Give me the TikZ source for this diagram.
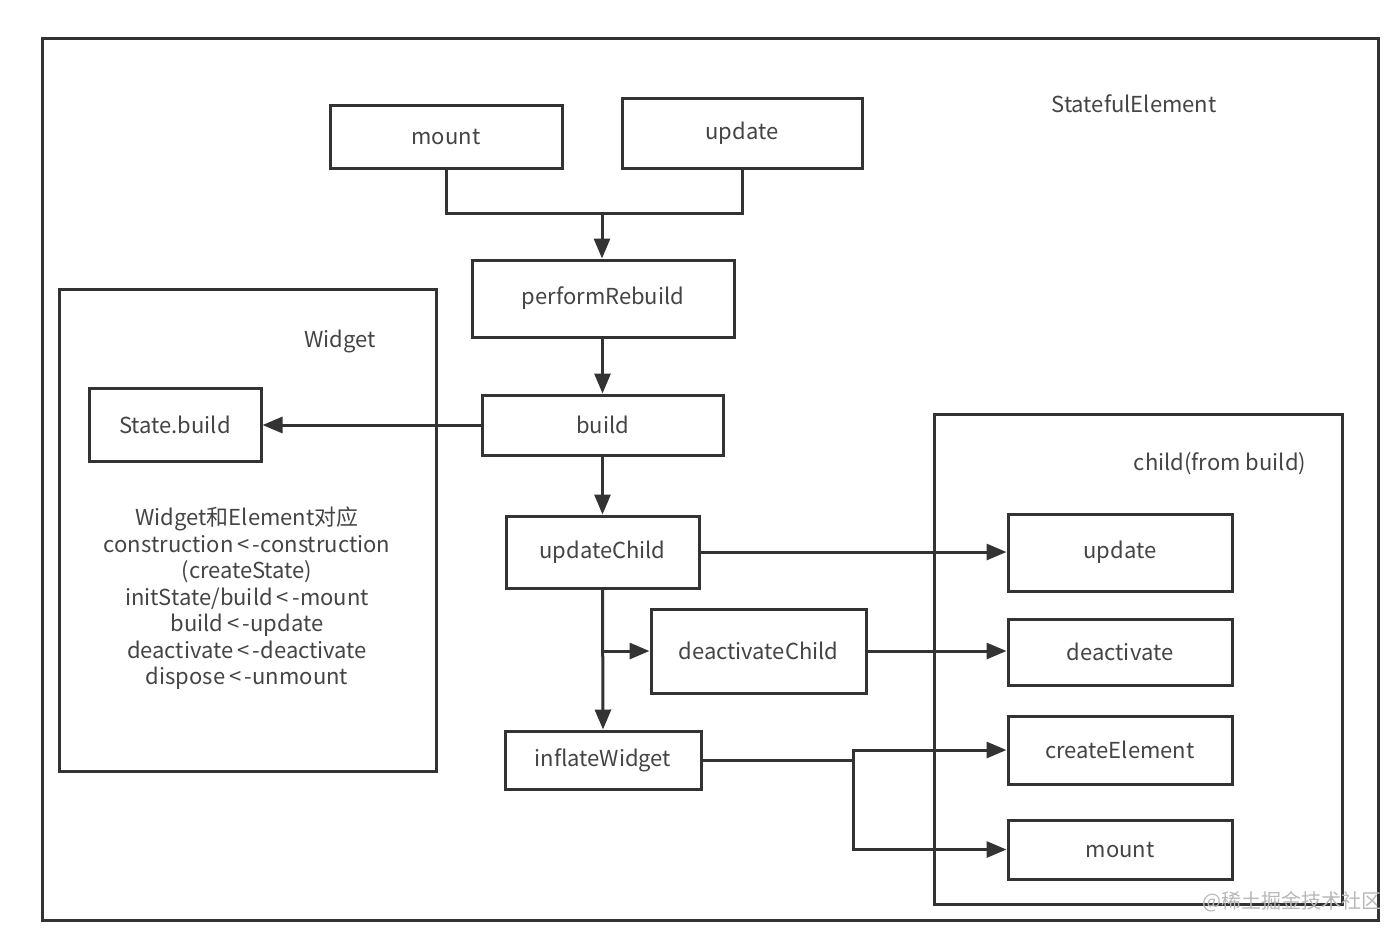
\documentclass[tikz,border=0pt]{standalone}
\usepackage{fontspec}
\setmainfont{Noto Sans CJK SC}
\usetikzlibrary{arrows.meta}
\definecolor{ln}{HTML}{333333}
\definecolor{tx}{HTML}{444444}
\definecolor{wm}{HTML}{B8B8B8}
\tikzset{
  box/.style={draw=ln, line width=1.5pt, fill=white, text=tx, font=\fontsize{11}{13}\selectfont, inner sep=0pt},
  frame/.style={draw=ln, line width=1.5pt},
  conn/.style={draw=ln, line width=1.5pt},
  arr/.style={conn, -{Triangle[length=10pt,width=8pt]}},
  lbl/.style={text=tx, font=\fontsize{11}{13}\selectfont, inner sep=0pt}
}
\begin{document}
\begin{tikzpicture}[x=0.5pt,y=-0.5pt]
\useasboundingbox (0,0) rectangle (1395,934);
% frames
\draw[frame] (42,38) rectangle (1378,920);
\node[lbl] (sflbl) at (1134,104) {StatefulElement};
\draw[frame] (59,289) rectangle (436,771);
\node[lbl] (wlbl) at (340,341) {Widget};
\draw[frame] (934,414) rectangle (1342,904);
\node[lbl] (clbl) at (1220,464) {child(from build)};
% nodes
\node[box, minimum width=116pt, minimum height=31.5pt] (mount) at (446,137) {mount};
\node[box, minimum width=120pt, minimum height=35pt] (update) at (742,133) {update};
\node[box, minimum width=131pt, minimum height=38.5pt] (perf) at (603,298.5) {performRebuild};
\node[box, minimum width=120.5pt, minimum height=30pt] (build) at (602.5,425) {build};
\node[box, minimum width=86pt, minimum height=36.5pt] (sbuild) at (175,425) {State.build};
\node[box, minimum width=96.5pt, minimum height=36pt] (uchild) at (602.5,552) {updateChild};
\node[box, minimum width=107.5pt, minimum height=42pt] (dchild) at (758.5,651) {deactivateChild};
\node[box, minimum width=98pt, minimum height=29pt] (inflate) at (603,760) {inflateWidget};
\node[box, minimum width=112pt, minimum height=38.5pt] (cupdate) at (1120,552.5) {update};
\node[box, minimum width=112pt, minimum height=33pt] (cdeact) at (1120,652) {deactivate};
\node[box, minimum width=112pt, minimum height=34pt] (ccreate) at (1120,750) {createElement};
\node[box, minimum width=112pt, minimum height=29.5pt] (cmount) at (1120,849.5) {mount};
\node[lbl, align=center, font=\fontsize{11}{13.25}\selectfont] (wtext) at (247,598.5) {Widget和Element对应\\construction\,<\,-construction\\(createState)\\initState/build\,<\,-mount\\build\,<\,-update\\deactivate\,<\,-deactivate\\dispose\,<\,-unmount};
% connectors
\coordinate (m1) at (446,213);
\coordinate (m2) at (742,213);
\coordinate (mj) at (602,213);
\draw[conn] (mount.south) -- (m1) -- (m2) -- (update.south);
\draw[arr] (mj) -- (perf.north -| mj);
\draw[arr] (perf.south -| build) -- (build.north);
\draw[arr] (build.west) -- (sbuild.east);
\draw[arr] (build.south -| uchild) -- (uchild.north);
\draw[arr] (uchild.south) -- (inflate.north);
\coordinate (db) at (603,651);
\draw[arr] (db) -- (dchild.west);
\draw[arr] (uchild.east) -- (cupdate.west |- uchild.east);
\draw[arr] (dchild.east) -- (cdeact.west |- dchild.east);
\coordinate (ij) at (853,760);
\draw[conn] (inflate.east) -- (ij);
\draw[arr] (ij) |- (ccreate.west);
\draw[arr] (ij) |- (cmount.west);
% watermark
\node[text=wm, font=\fontsize{10}{12}\selectfont, inner sep=0pt] (wmark) at (1292,902) {@稀土掘金技术社区};
\end{tikzpicture}
\end{document}
